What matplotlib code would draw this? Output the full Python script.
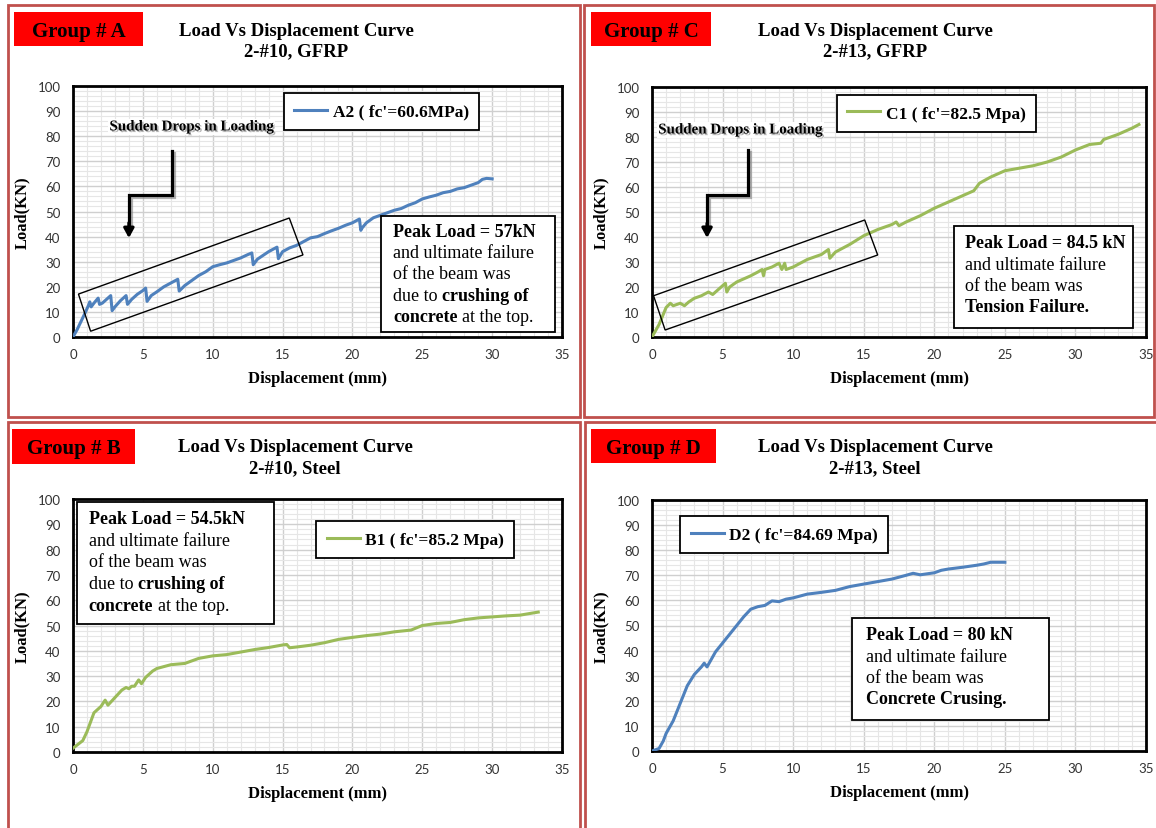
import matplotlib
matplotlib.use("Agg")
import matplotlib.pyplot as plt
import matplotlib.patheffects as pe
from matplotlib.patches import Rectangle, Polygon
from matplotlib.ticker import MultipleLocator

W, H = 1156, 829
SERIF = "Liberation Serif"
BLUE = "#4F81BD"
GREEN = "#9BBB59"
FRAME = "#C0504D"

plt.rcParams["font.family"] = ["Lato", "DejaVu Sans"]

# ---- data ----
a_disp = [0, 0.3, 0.6, 0.9, 1.1, 1.2, 1.3, 1.5, 1.8, 1.9, 2.1, 2.4, 2.7, 2.8, 3.0, 3.4, 3.8,
          3.9, 4.2, 4.6, 5.0, 5.2, 5.3, 5.6, 6.0, 6.5, 7.0, 7.5, 7.6, 8.0, 8.5, 9.0, 9.5, 10.0,
          10.5, 11.0, 11.5, 12.0, 12.5, 12.8, 12.9, 13.2, 13.6, 14.0, 14.6, 14.7, 15.0, 15.5,
          16.0, 16.5, 17.0, 17.5, 18.0, 18.5, 19.0, 19.5, 20.0, 20.5, 20.6, 20.7, 21.0, 21.5,
          22.0, 22.5, 23.0, 23.5, 24.0, 24.5, 25.0, 25.5, 26.0, 26.5, 27.0, 27.5, 28.0, 28.5,
          29.0, 29.3, 29.6, 30.0]
a_load = [0, 3, 6.5, 10, 12.5, 14, 12, 13.5, 15.5, 13, 13.5, 15, 16.5, 10.5, 12, 14.5, 16.5,
          13, 15, 17, 18.5, 19.5, 14.2, 16.5, 18, 20, 21.5, 23, 18.3, 20.5, 22.5, 24.5, 26, 28,
          28.8, 29.5, 30.5, 31.5, 32.8, 33.5, 28.8, 31, 32.5, 34, 35.8, 31.2, 34, 35.5,
          36.5, 38, 39.5, 40, 41.2, 42.3, 43.3, 44.5, 45.5, 47, 42.5, 43.5, 45.5, 47.5,
          48.5, 49.5, 50.5, 51.2, 52.5, 53.5, 55, 55.8, 56.5, 57.5, 58, 59, 59.5, 60.5,
          61.5, 62.8, 63.2, 63]

c_disp = [0, 0.5, 1.0, 1.3, 1.5, 2.0, 2.3, 2.6, 3.0, 3.5, 4.0, 4.3, 5.0, 5.2, 5.3, 5.5, 6.0,
          7.0, 7.5, 7.8, 7.9, 8.0, 8.5, 9.0, 9.2, 9.4, 9.5, 10.0, 11.0, 12.0, 12.5, 12.6, 13.0,
          14.0, 15.0, 16.0, 17.0, 17.3, 17.5, 18.0, 19.0, 20.0, 21.0, 22.0, 22.8, 23.2, 24.0,
          25.0, 26.0, 27.0, 28.0, 29.0, 30.0, 31.0, 31.8, 32.0, 33.0, 34.0, 34.5]
c_load = [0, 5, 11.8, 13.5, 12.5, 13.5, 12.5, 14, 15.5, 16.5, 18, 17, 20.5, 21.5, 18, 20, 22,
          24.5, 26, 27, 24.5, 27, 28, 29.5, 27, 29.5, 27, 28, 31, 33, 35, 31.5, 34,
          37, 40.5, 43, 45, 46, 44.5, 46, 48.5, 51.5, 54, 56.5, 58.5, 61.5, 64,
          66.5, 67.5, 68.5, 70, 72, 74.8, 77, 77.5, 79, 81, 83.5, 85]

b_disp = [0, 0.7, 1.0, 1.5, 2.0, 2.3, 2.5, 3.0, 3.5, 3.8, 4.0, 4.2, 4.4, 4.7, 4.9, 5.2, 5.7,
          6.0, 7.0, 8.0, 9.0, 10.0, 11.0, 12.0, 13.0, 14.0, 15.0, 15.3, 15.5, 16.0, 17.0,
          18.0, 19.0, 20.0, 21.0, 22.0, 23.0, 24.2, 25.0, 26.0, 27.0, 28.0, 29.0, 30.0,
          31.0, 32.0, 33.3]
b_load = [1.5, 4.5, 8, 15.5, 18, 20.5, 18.5, 21.5, 24.5, 25.5, 25, 26, 26, 28.5, 27, 29.5, 32,
          33, 34.5, 35, 37, 38, 38.5, 39.5, 40.5, 41.3, 42.3, 42.5, 41.2, 41.5, 42.2,
          43.2, 44.5, 45.3, 46, 46.6, 47.5, 48.2, 50, 50.8, 51.2, 52.3, 53, 53.4,
          53.8, 54.1, 55.3]

d_disp = [0, 0.5, 0.8, 1.0, 1.5, 2.0, 2.5, 3.0, 3.5, 3.7, 3.9, 4.5, 5.0, 5.5, 6.0, 6.5, 7.0,
          7.5, 8.0, 8.5, 9.0, 9.5, 10.0, 11.0, 12.0, 13.0, 14.0, 15.0, 16.0, 17.0, 18.0,
          18.5, 19.0, 20.0, 20.5, 21.0, 22.0, 23.0, 23.5, 24.0, 25.0]
d_load = [0, 1, 4, 7, 12, 19, 26, 30.5, 33.5, 35, 33.5, 39.5, 43, 46.5, 50, 53.5, 56.5,
          57.5, 58, 59.8, 59.5, 60.5, 61, 62.5, 63.2, 64, 65.5, 66.5, 67.5, 68.5, 70,
          70.8, 70.2, 71, 72, 72.5, 73.2, 74, 74.5, 75.2, 75.2]

a_label = "A2 ( fc'=60.6MPa)"
b_label = "B1 ( fc'=85.2 Mpa)"
c_label = "C1 ( fc'=82.5 Mpa)"
d_label = "D2 ( fc'=84.69 Mpa)"

a_note = [[("Peak Load = 57kN", True)], [("and ultimate failure", False)],
          [("of the beam was", False)], [("due to", False), ("crushing of", True)],
          [("concrete", True), ("at the top.", False)]]
b_note = [[("Peak Load = 54.5kN", True)], [("and ultimate failure", False)],
          [("of the beam was", False)], [("due to", False), ("crushing of", True)],
          [("concrete", True), ("at the top.", False)]]
c_note = [[("Peak Load = 84.5 kN", True)], [("and ultimate failure", False)],
          [("of the beam was", False)], [("Tension Failure.", True)]]
d_note = [[("Peak Load = 80 kN", True)], [("and ultimate failure", False)],
          [("of the beam was", False)], [("Concrete Crusing.", True)]]

fig = plt.figure(figsize=(W / 100, H / 100), dpi=100)
fig.patch.set_facecolor("white")


def fig_rect(x0, y0, x1, y1):
    # pixel box (top-left origin) -> figure fraction rect
    return [x0 / W, 1 - y1 / H, (x1 - x0) / W, (y1 - y0) / H]


# panel frames and group tags
for x0, y0, x1, y1 in [(8, 6, 580, 418), (584, 6, 1154, 418),
                       (8, 423, 580, 840), (585, 423, 1160, 840)]:
    l, b, w, h = fig_rect(x0, y0, x1, y1)
    fig.add_artist(Rectangle((l, b), w, h, transform=fig.transFigure,
                             fc="none", ec=FRAME, lw=2))

for name, (x0, y0, x1, y1) in [("Group # A", (14, 13, 143, 47)), ("Group # C", (591, 13, 711, 47)),
                               ("Group # B", (12, 430, 135, 465)), ("Group # D", (591, 430, 716, 464))]:
    l, b, w, h = fig_rect(x0, y0, x1, y1)
    fig.add_artist(Rectangle((l, b), w, h, transform=fig.transFigure, fc="#FF0000", ec="none"))
    fig.text(l + w / 2, b + h / 2 - 0.002, name, ha="center", va="center", family=SERIF,
             weight="bold", fontsize=15)

for cx, cy, sub in [(296, 31, "2-#10, GFRP"), (875, 31, "2-#13, GFRP"),
                    (295, 448, "2-#10, Steel"), (875, 448, "2-#13, Steel")]:
    fig.text(cx / W, 1 - cy / H, "Load Vs Displacement Curve", ha="center", va="center",
             family=SERIF, weight="bold", fontsize=13.5)
    fig.text(cx / W, 1 - (cy + 21) / H, sub, ha="center", va="center",
             family=SERIF, weight="bold", fontsize=13.5)

text_shadow = [pe.SimplePatchShadow(offset=(1.2, -1.2), shadow_rgbFace="#808080", alpha=0.6), pe.Normal()]
line_shadow = [pe.SimpleLineShadow(offset=(1.5, -1.5), shadow_color="#808080", alpha=0.6), pe.Normal()]


def setup(ax):
    ax.set_xlim(0, 35)
    ax.set_ylim(0, 100)
    ax.xaxis.set_major_locator(MultipleLocator(5))
    ax.xaxis.set_minor_locator(MultipleLocator(1))
    ax.yaxis.set_major_locator(MultipleLocator(10))
    ax.yaxis.set_minor_locator(MultipleLocator(2))
    ax.grid(which="major", color="#cfcfcf", lw=1.0)
    ax.grid(which="minor", color="#e6e6e6", lw=0.8)
    ax.set_axisbelow(True)
    ax.tick_params(which="both", length=0, labelsize=9.5, colors="#333333")
    ax.tick_params(axis="x", pad=8)
    ax.tick_params(axis="y", pad=9)
    for s in ax.spines.values():
        s.set_linewidth(2)
        s.set_color("black")
    ax.set_xlabel("Displacement (mm)", family=SERIF, weight="bold", fontsize=12, labelpad=7)
    ax.set_ylabel("Load(KN)", family=SERIF, weight="bold", fontsize=12, labelpad=5)


def add_legend(ax, x, y):
    leg = ax.legend(loc="upper left", bbox_to_anchor=(x, y), bbox_transform=ax.transData,
                    borderaxespad=0, fancybox=False, framealpha=1, edgecolor="black",
                    prop=dict(family=SERIF, weight="bold", size=12.5),
                    handlelength=1.9, handletextpad=0.3, borderpad=0.6)
    leg.get_frame().set_linewidth(1.3)
    leg.set_zorder(7)


def add_note(ax, box, tx, ty, lines, dy=8.5):
    x0, y0, x1, y1 = box
    ax.add_patch(Rectangle((x0, y0), x1 - x0, y1 - y0, fc="white", ec="black", lw=1.3, zorder=5))
    for i, segs in enumerate(lines):
        prev = None
        for text, bold in segs:
            kw = dict(fontsize=13, family=SERIF, weight="bold" if bold else "normal",
                      ha="left", zorder=6)
            if prev is None:
                prev = ax.text(tx, ty - i * dy, text, va="center", **kw)
            else:
                prev = ax.annotate(text, xy=(1, 0), xycoords=prev, xytext=(3.3, 0),
                                   textcoords="offset points", va="bottom", **kw)


def add_drops(ax, tx, ty, px, py, tip, rect):
    ax.text(tx, ty, "Sudden Drops in Loading", ha="center", va="center", family=SERIF,
            weight="bold", fontsize=10.8, zorder=6, path_effects=text_shadow,
            bbox=dict(fc="white", ec="none", pad=1.0))
    ax.plot(px, py, color="black", lw=2.3, solid_joinstyle="miter", zorder=6,
            path_effects=line_shadow)
    ax.annotate("", xy=(px[-1], tip), xytext=(px[-1], py[-1] + 0.5),
                arrowprops=dict(arrowstyle="-|>,head_width=0.3,head_length=0.55",
                                color="black", lw=2.3, shrinkA=0, shrinkB=0), zorder=6)
    ax.add_patch(Polygon(rect, closed=True, fill=False, ec="black", lw=1.0, zorder=4))


# ---- Group A ----
ax = fig.add_axes(fig_rect(73, 87, 562, 338))
setup(ax)
ax.plot(a_disp, a_load, color=BLUE, lw=2.2, label=a_label, zorder=3)
add_legend(ax, 15.1, 97.2)
add_drops(ax, 8.5, 83.7, [7.07, 7.07, 4.0, 4.0], [74.1, 56.6, 56.6, 45.0], 39.4,
          [(0.39, 17.1), (15.48, 47.4), (16.46, 32.7), (1.26, 2.3)])
add_note(ax, (22.07, 2.0, 34.5, 48.2), 22.9, 42.2, a_note)

# ---- Group C ----
ax = fig.add_axes(fig_rect(652, 88, 1146, 338))
setup(ax)
ax.plot(c_disp, c_load, color=GREEN, lw=2.2, label=c_label, zorder=3)
add_legend(ax, 13.1, 96.8)
add_drops(ax, 6.27, 82.8, [6.8, 6.8, 3.9, 3.9], [74.8, 56.8, 56.8, 45.0], 39.6,
          [(0.11, 16.5), (15.07, 46.8), (15.99, 32.8), (0.93, 2.8)])
add_note(ax, (21.4, 3.6, 34.1, 44.4), 22.2, 37.6, c_note)

# ---- Group B ----
ax = fig.add_axes(fig_rect(73, 500, 562, 753))
setup(ax)
ax.plot(b_disp, b_load, color=GREEN, lw=2.2, label=b_label, zorder=3)
add_legend(ax, 17.4, 91.3)
add_note(ax, (0.29, 50.6, 14.4, 98.8), 1.13, 92.1, b_note)

# ---- Group D ----
ax = fig.add_axes(fig_rect(652, 501, 1146, 752))
setup(ax)
ax.plot(d_disp, d_load, color=BLUE, lw=2.2, label=d_label, zorder=3)
add_legend(ax, 2.0, 93.6)
add_note(ax, (14.2, 12.4, 28.1, 53.0), 15.15, 46.3, d_note)

fig.savefig("out.png", dpi=100)
